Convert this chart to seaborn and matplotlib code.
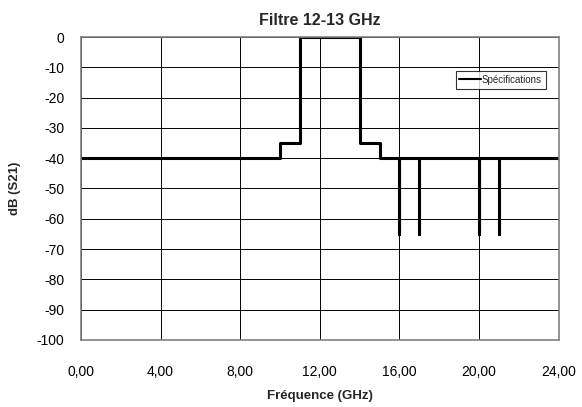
import matplotlib
matplotlib.use("Agg")
import matplotlib.pyplot as plt
import seaborn as sns
import pandas as pd

# spec mask (GHz, dB)
freq = [0, 10, 10, 11, 11, 14, 14, 15, 15, 16, 16, 16, 17, 17, 17,
        20, 20, 20, 21, 21, 21, 24]
db = [-40, -40, -35, -35, 0, 0, -35, -35, -40, -40, -65, -40, -40, -65, -40,
      -40, -65, -40, -40, -65, -40, -40]
x_ticks = [0, 4, 8, 12, 16, 20, 24]
y_ticks = [0, -10, -20, -30, -40, -50, -60, -70, -80, -90, -100]

df = pd.DataFrame({"freq": freq, "db": db, "serie": "Spécifications"})

sns.set_style("white")
plt.rcParams["font.family"] = ["Liberation Sans", "DejaVu Sans"]

fig = plt.figure(figsize=(5.82, 4.07), dpi=100)
ax = fig.add_axes([0.139, 0.165, 0.821, 0.744])

sns.lineplot(data=df, x="freq", y="db", hue="serie", palette=["black"],
             sort=False, estimator=None, linewidth=2.2, ax=ax)

ax.set_xlim(0, 24)
ax.set_ylim(-100, 0)
ax.set_xticks(x_ticks)
ax.set_xticklabels([f"{v:.2f}".replace(".", ",") for v in x_ticks])
ax.set_yticks(y_ticks)
ax.set_yticklabels([str(v) for v in y_ticks])
ax.tick_params(axis="both", length=0, labelsize=10, colors="black")
ax.tick_params(axis="x", pad=18)
ax.tick_params(axis="y", pad=12)
ax.grid(True, color="black", linewidth=0.7)
ax.set_axisbelow(True)
for s in ax.spines.values():
    s.set_color("#808080")
    s.set_linewidth(1.2)
    s.set_visible(True)

ax.set_title("Filtre 12-13 GHz", fontsize=11.5, fontweight="bold", pad=9)
ax.set_xlabel("Fréquence (GHz)", fontsize=9.5, fontweight="bold", labelpad=8)
ax.set_ylabel("dB (S21)", fontsize=9.5, fontweight="bold", labelpad=11)

leg = ax.legend(loc="upper left", bbox_to_anchor=(0.784, 0.888), fontsize=7,
                frameon=True, fancybox=False, handlelength=2.2,
                handletextpad=0.1, borderpad=0.4, borderaxespad=0)
leg.get_frame().set_edgecolor("black")
leg.get_frame().set_linewidth(0.8)
for line in leg.get_lines():
    line.set_linewidth(1.5)

fig.savefig("out.png", dpi=100)
